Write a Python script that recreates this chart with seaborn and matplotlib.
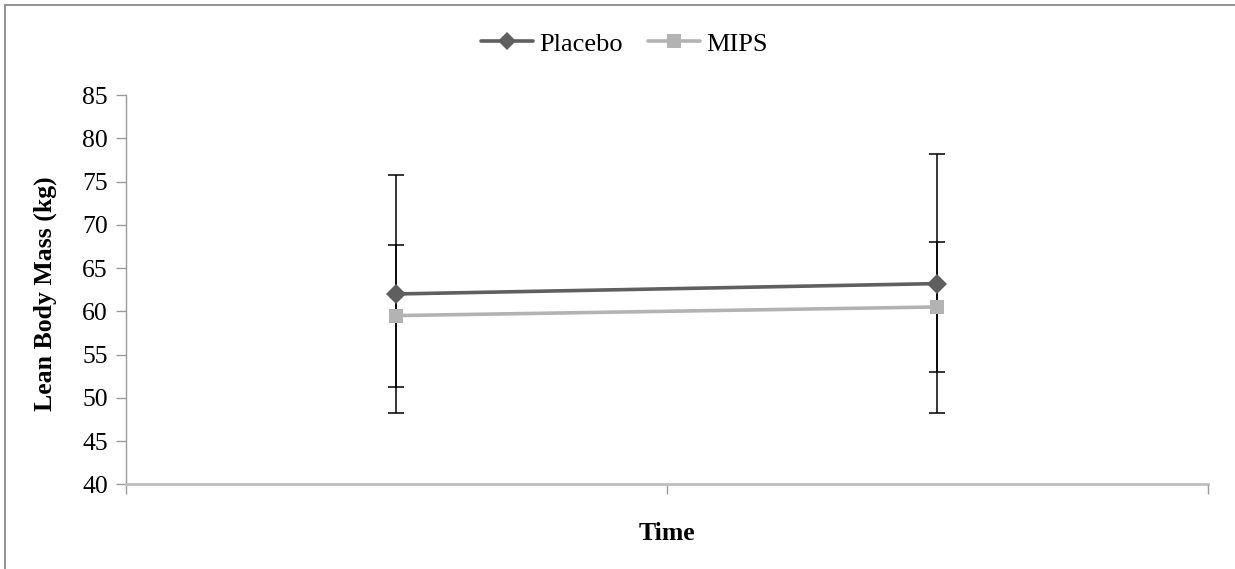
import matplotlib
matplotlib.use("Agg")
import matplotlib.pyplot as plt
from matplotlib.lines import Line2D
import seaborn as sns
import pandas as pd

# Lean body mass, mean and SD at two time points
time_points = ["Pre", "Post"]
placebo_mean = [62.0, 63.2]
placebo_sd = [13.8, 15.0]
mips_mean = [59.5, 60.5]
mips_sd = [8.2, 7.5]
groups = ["Placebo", "MIPS"]
y_ticks = [40, 45, 50, 55, 60, 65, 70, 75, 80, 85]

colors = {"Placebo": "#5f5f5f", "MIPS": "#b3b3b3"}
markers = {"Placebo": "D", "MIPS": "s"}

df = pd.DataFrame({
    "pos": list(range(len(time_points))) * 2,
    "time": time_points * 2,
    "group": [groups[0]] * len(time_points) + [groups[1]] * len(time_points),
    "mean": placebo_mean + mips_mean,
    "sd": placebo_sd + mips_sd,
})

sns.set_theme(style="white")
plt.rcParams["font.family"] = ["Liberation Serif", "DejaVu Serif"]

fig = plt.figure(figsize=(12.35, 5.69), dpi=100)
ax = fig.add_axes([0.102, 0.1489, 0.876, 0.6841])

# error bars behind the series lines
for g in groups:
    sub = df[df["group"] == g]
    ax.errorbar(sub["pos"], sub["mean"], yerr=sub["sd"], fmt="none",
                ecolor="black", elinewidth=1.1, capsize=5.5, capthick=1.1,
                zorder=1)

sns.lineplot(data=df, x="pos", y="mean", hue="group", style="group",
             palette=colors, markers=markers, dashes=False, ax=ax,
             linewidth=2.6, markersize=10, markeredgewidth=0,
             legend=False, zorder=3)

ax.set_xlim(-0.5, len(time_points) - 0.5)
ax.set_ylim(40, 85)
ax.set_yticks(y_ticks)
ax.set_yticklabels([str(v) for v in y_ticks], fontsize=18.5, color="black")
ax.set_xticks([-0.5, 0.5, 1.5])
ax.set_xticklabels([])

for s in ["top", "right"]:
    ax.spines[s].set_visible(False)
ax.spines["left"].set_color("#9a9a9a")
ax.spines["left"].set_linewidth(1.0)
ax.spines["bottom"].set_color("#bdbdbd")
ax.spines["bottom"].set_linewidth(2.0)
ax.tick_params(axis="y", direction="out", length=7, width=1.0,
               color="#9a9a9a", left=True, pad=6)
ax.tick_params(axis="x", direction="out", length=7, width=1.0,
               color="#9a9a9a", bottom=True)

ax.set_ylabel("Lean Body Mass (kg)", fontsize=18.5, fontweight="bold",
              color="black")
ax.yaxis.set_label_coords(-0.0633, 0.49)
ax.set_xlabel("Time", fontsize=18.5, fontweight="bold", color="black")
ax.xaxis.set_label_coords(0.5, -0.097)

handles = [Line2D([0], [0], color=colors[g], marker=markers[g], lw=2.6,
                  markersize=9 if g == "Placebo" else 10, markeredgewidth=0)
           for g in groups]
fig.legend(handles, groups, loc="center", bbox_to_anchor=(0.5057, 0.9227),
           ncol=2, frameon=False, fontsize=19, handlelength=1.95,
           handletextpad=0.25, columnspacing=0.95, labelcolor="black")

# outer chart border (top and left edges visible)
fig.add_artist(Line2D([5 / 1235, 1.0], [1 - 5 / 569, 1 - 5 / 569],
                      transform=fig.transFigure, color="#8a8a8a", lw=1.3))
fig.add_artist(Line2D([5 / 1235, 5 / 1235], [0.0, 1 - 5 / 569],
                      transform=fig.transFigure, color="#8a8a8a", lw=1.3))

fig.savefig("out.png", dpi=100, facecolor="white")
